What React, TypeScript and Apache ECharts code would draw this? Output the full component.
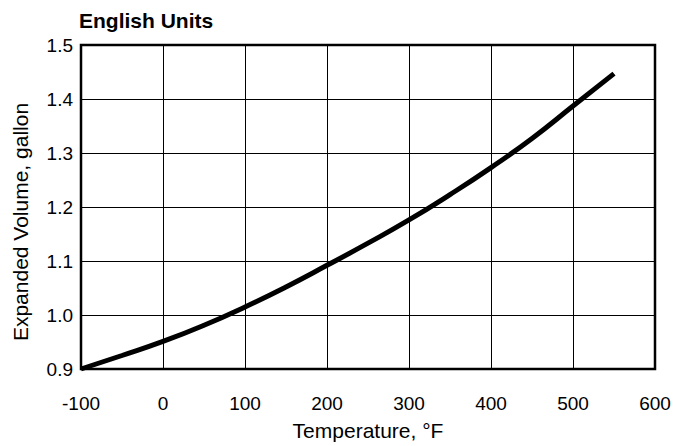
import React, { useEffect, useRef } from "react";
import * as echarts from "echarts";

const temperatures = [-100, -50, 0, 50, 100, 150, 200, 250, 300, 350, 400, 450, 500, 550];
const volumes = [0.9, 0.925, 0.951, 0.981, 1.015, 1.052, 1.092, 1.133, 1.176, 1.223, 1.273, 1.327, 1.387, 1.447];
const titleText = "English Units";
const xName = "Temperature, °F";
const yName = "Expanded Volume, gallon";

const FONT = "'Liberation Sans', Arial, sans-serif";

export default function App() {
  const ref = useRef<HTMLDivElement>(null);
  useEffect(() => {
    if (!ref.current) return;
    const chart = echarts.init(ref.current, undefined, { renderer: "svg" });
    chart.setOption({
      animation: false,
      backgroundColor: "#fff",
      title: {
        text: titleText,
        left: 79,
        top: 10,
        padding: 0,
        textStyle: { fontFamily: FONT, fontSize: 21, fontWeight: "bold", color: "#000" },
      },
      grid: {
        left: 81,
        top: 45,
        width: 574,
        height: 330,
        show: true,
        borderColor: "#000",
        borderWidth: 2.5,
        containLabel: false,
      },
      xAxis: {
        type: "value",
        min: -100,
        max: 600,
        interval: 100,
        name: xName,
        nameLocation: "middle",
        nameGap: 51,
        nameTextStyle: { fontFamily: FONT, fontSize: 21, color: "#000" },
        axisLine: { show: false },
        axisTick: { show: false },
        axisLabel: { fontFamily: FONT, fontSize: 19, color: "#000", margin: 25 },
        splitLine: { show: true, lineStyle: { color: "#000", width: 1 } },
      },
      yAxis: {
        type: "value",
        min: 0.9,
        max: 1.5,
        interval: 0.1,
        name: yName,
        nameLocation: "middle",
        nameGap: 50,
        nameTextStyle: { fontFamily: FONT, fontSize: 21, color: "#000", padding: [0, 30, 0, 0] },
        axisLine: { show: false },
        axisTick: { show: false },
        axisLabel: {
          fontFamily: FONT,
          fontSize: 19,
          color: "#000",
          margin: 8,
          formatter: (v: number) => v.toFixed(1),
        },
        splitLine: { show: true, lineStyle: { color: "#000", width: 1 } },
      },
      series: [
        {
          type: "line",
          data: temperatures.map((t, i) => [t, volumes[i]]),
          smooth: true,
          showSymbol: false,
          lineStyle: { color: "#000", width: 5 },
          clip: false,
        },
      ],
    });
    return () => chart.dispose();
  }, []);
  return (
    <div
      ref={ref}
      style={{ position: "absolute", left: 0, top: 0, width: 679, height: 446 }}
    />
  );
}
